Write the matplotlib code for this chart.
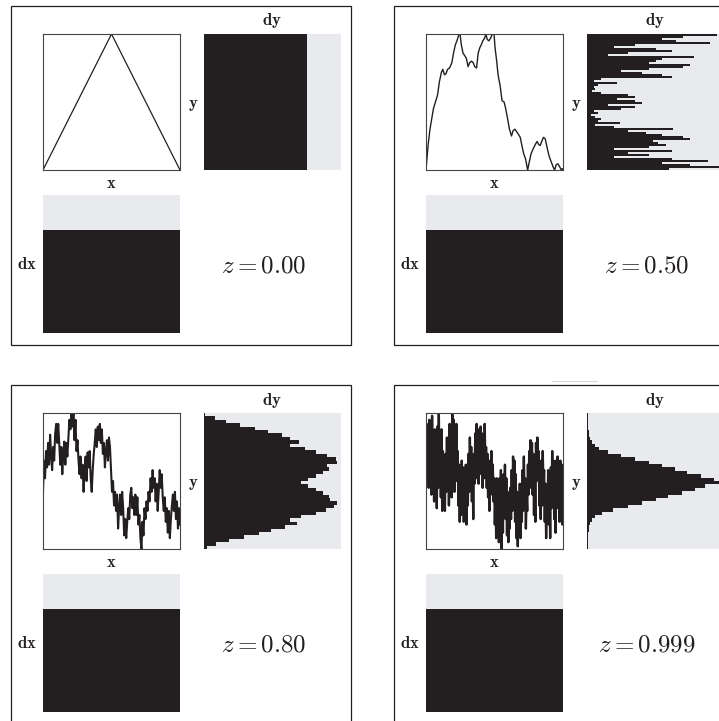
import matplotlib.pyplot as plt
from matplotlib.patches import Rectangle
import numpy as np

plt.rcParams['mathtext.fontset'] = 'cm'

INK = '#231f20'
PAPER = '#e9eaee'
W, H = 719, 721

z_labels = ['0.00', '0.50', '0.80', '0.999']

# curves, heights in percent of the y range
curve_00_x = [0, 50, 100]
curve_00_y = [0, 100, 0]

curve_50_x = [0, 1.5, 2.9, 5.4, 6.9, 8.4, 9.8, 11.3, 12.3, 13.5, 14.7, 15.7, 17.2, 18.9,
              20.1, 21.4, 22.6, 23.8, 24.6, 25.8, 27.0, 28.3, 29.5, 30.7, 31.9, 33.2, 34.4,
              35.6, 36.9, 38.1, 39.3, 40.3, 41.5, 42.8, 43.7, 44.7, 45.9, 47.2, 48.4, 49.6,
              50.4, 51.6, 52.6, 54.1, 55.5, 57.0, 58.2, 59.5, 60.9, 62.4, 63.6, 64.9, 66.3,
              67.6, 68.8, 70.0, 71.3, 72.7, 74.2, 75.2, 76.7, 78.4, 79.9, 81.1, 82.1, 83.3,
              84.5, 85.7, 87.0, 88.5, 89.9, 91.4, 92.9, 93.9, 95.1, 96.3, 97.5, 98.8, 99.5, 100]
curve_50_y = [0, 18, 30, 45, 50, 55, 65, 72, 74, 70, 71, 74, 75, 79, 86, 92, 95, 99, 102, 92,
              86, 84, 82, 76, 79, 80, 79, 76, 75, 86, 90, 92, 95, 97, 100, 96, 95, 97, 100, 101,
              90, 80, 70, 62, 51, 50, 45, 38, 30, 25, 29, 30, 28, 26, 24, 18, 12, 8, 0, 5,
              12, 16, 19, 21, 19, 18, 21, 24, 23, 16, 10, 6, 2, 0, 4, 4.5, 2.5, 0, 1, 0]

curve_80_y = [42, 65, 52, 72, 60, 78, 62, 84, 70, 58, 75, 65, 85, 92, 78, 92, 78, 62, 75, 55,
              70, 79, 62, 78, 68, 82, 95, 88, 99, 90, 100, 80, 95, 72, 80, 65, 55, 68, 52, 62,
              42, 58, 68, 50, 71, 60, 72, 52, 42, 58, 70, 78, 88, 75, 90, 80, 92, 78, 88, 70,
              78, 60, 72, 80, 65, 82, 75, 58, 42, 50, 32, 42, 28, 40, 15, 30, 40, 25, 42, 30,
              10, 22, 8, 20, 30, 22, 40, 45, 30, 38, 25, 40, 25, 38, 18, 25, 8, 0, 20, 10,
              30, 22, 35, 28, 42, 35, 52, 42, 58, 45, 52, 35, 48, 28, 42, 58, 45, 55, 38, 28,
              38, 20, 30, 12, 28, 8, 22, 32, 40, 28, 42, 22, 35, 15, 30, 18]

curve_999_y = [65, 92, 52, 88, 45, 95, 58, 82, 40, 98, 52, 78, 35, 88, 42, 75, 30, 90, 45, 100,
               52, 80, 38, 88, 28, 72, 32, 60, 28, 70, 42, 82, 45, 75, 32, 92, 55, 80, 38, 99,
               52, 95, 42, 88, 65, 92, 50, 72, 32, 62, 20, 55, 25, 65, 38, 60, 20, 52, 25, 62,
               18, 55, 32, 70, 42, 82, 52, 75, 35, 65, 22, 70, 48, 85, 52, 92, 62, 88, 48, 80,
               58, 90, 55, 85, 45, 80, 52, 92, 58, 75, 45, 70, 38, 60, 28, 65, 45, 72, 40, 62,
               35, 52, 18, 42, 8, 52, 20, 38, 5, 52, 18, 58, 0, 45, 12, 55, 30, 62, 22, 52,
               10, 42, 5, 32, 15, 45, 22, 58, 28, 68, 38, 65, 20, 55, 8, 42, 2, 32, 15, 48,
               8, 40, 20, 58, 28, 68, 38, 52, 15, 40, 28, 62, 40, 72, 45, 80, 52, 78, 40, 70,
               25, 60, 20, 78, 50, 82, 55, 72, 32, 58, 22, 65, 32, 72, 45, 58, 20, 48, 8, 38,
               25, 58, 18, 50, 8, 60, 30, 72, 40, 65, 22, 58, 12, 65, 30, 68, 40, 60, 20, 65,
               28, 62, 18, 58]

# dy histograms, lowest bin first, bar length as a fraction of the axis width
dy_00 = [0.75, 0.75, 0.75, 0.75]
dy_50 = [0.60, 0.97, 0.75, 0.55, 0.88, 0.62, 0.20, 0.45, 0.30, 0.62, 0.20, 0.45, 0.58, 0.52,
         0.48, 0.75, 0.70, 0.55, 0.43, 0.30, 0.63, 0.20, 0.06, 0.24, 0.08, 0.10, 0.06, 0.03,
         0.08, 0.05, 0.25, 0.35, 0.15, 0.40, 0.35, 0.22, 0.35, 0.30, 0.10, 0.04, 0.06, 0.05,
         0.08, 0.22, 0.05, 0.10, 0.62, 0.55, 0.40, 0.25, 0.45, 0.70, 0.75, 0.45, 0.50, 0.55,
         0.78, 0.15, 0.30, 0.62, 0.50, 0.20, 0.35, 0.90, 0.65, 0.55, 0.70, 0.95]
dy_80 = [0.02, 0.09, 0.18, 0.29, 0.40, 0.49, 0.59, 0.68, 0.63, 0.71, 0.82, 0.89, 0.95, 0.97,
         0.92, 0.91, 0.87, 0.82, 0.76, 0.71, 0.76, 0.82, 0.87, 0.91, 0.90, 0.97, 0.96, 0.90,
         0.82, 0.74, 0.63, 0.69, 0.63, 0.57, 0.47, 0.37, 0.26, 0.16, 0.08, 0.01]
dy_999 = [0.005, 0.005, 0.006, 0.008, 0.01, 0.012, 0.018, 0.025, 0.04, 0.06, 0.11, 0.19,
          0.30, 0.40, 0.50, 0.59, 0.69, 0.79, 0.86, 0.96, 0.93, 0.83, 0.73, 0.64, 0.55, 0.45,
          0.35, 0.25, 0.15, 0.09, 0.055, 0.04, 0.025, 0.016, 0.012, 0.01, 0.008, 0.006,
          0.005, 0.005]

# dx histograms, same for every z
dx_counts = [0.75, 0.75, 0.75, 0.75]

curves = [
    (curve_00_x, curve_00_y),
    (curve_50_x, curve_50_y),
    (np.linspace(0, 100, len(curve_80_y)), curve_80_y),
    (np.linspace(0, 100, len(curve_999_y)), curve_999_y),
]
curve_widths = [0.9, 1.0, 1.5, 1.7]
dy_hists = [dy_00, dy_50, dy_80, dy_999]

fig = plt.figure(figsize=(W / 100, H / 100), dpi=100)


def box(x, y, w, h):
    # pixel box (top-left origin) -> figure fraction rect
    return [x / W, 1 - (y + h) / H, w / W, h / H]


def fxy(x, y):
    return x / W, 1 - y / H


def hist_axes(rect):
    ax = fig.add_axes(rect)
    ax.set_facecolor(PAPER)
    ax.set_xticks([])
    ax.set_yticks([])
    for s in ax.spines.values():
        s.set_visible(False)
    return ax


origins = [(11, 6), (394, 6), (11, 385), (394, 385)]

for i, (ox, oy) in enumerate(origins):
    fig.patches.append(Rectangle(fxy(ox, oy + 339), 340 / W, 339 / H,
                                 transform=fig.transFigure, fill=False,
                                 edgecolor=INK, linewidth=0.9))

    # the curve itself
    ax = fig.add_axes(box(ox + 32, oy + 28, 137, 136))
    cx, cy = curves[i]
    ax.plot(cx, cy, color=INK, linewidth=curve_widths[i])
    ax.set_xlim(0, 100)
    ax.set_ylim(0, 100)
    ax.set_xticks([])
    ax.set_yticks([])
    for s in ax.spines.values():
        s.set_color('#444444')
        s.set_linewidth(0.8)

    # distribution of y
    ax = hist_axes(box(ox + 193, oy + 28, 137, 136))
    counts = dy_hists[i]
    ax.stairs(counts, np.linspace(0, 1, len(counts) + 1), orientation='horizontal',
              fill=True, color=INK, linewidth=0)
    ax.set_xlim(0, 1)
    ax.set_ylim(0, 1)

    # distribution of dx
    ax = hist_axes(box(ox + 32, oy + 189, 137, 138))
    ax.stairs(dx_counts, np.linspace(0, 1, len(dx_counts) + 1),
              fill=True, color=INK, linewidth=0)
    ax.set_xlim(0, 1)
    ax.set_ylim(0, 1)

    fig.text(*fxy(ox + 261, oy + 15), r'$\mathbf{dy}$', fontsize=12,
             ha='center', va='center', color=INK)
    fig.text(*fxy(ox + 100, oy + 177), r'$\mathbf{x}$', fontsize=12,
             ha='center', va='center', color=INK)
    fig.text(*fxy(ox + 182, oy + 98), r'$\mathbf{y}$', fontsize=12,
             ha='center', va='center', color=INK)
    fig.text(*fxy(ox + 16, oy + 258), r'$\mathbf{dx}$', fontsize=12,
             ha='center', va='center', color=INK)
    fig.text(*fxy(ox + 253, oy + 259), r'$z = \mathsf{%s}$' % z_labels[i],
             fontsize=18, ha='center', va='center', color=INK)

# stray short rule above the last panel
fig.add_artist(plt.Line2D([552 / W, 597 / W], [1 - 381 / H, 1 - 381 / H],
                          transform=fig.transFigure, color='#d8d8d8', linewidth=0.8))

fig.savefig('out.png', dpi=100, facecolor='white')
